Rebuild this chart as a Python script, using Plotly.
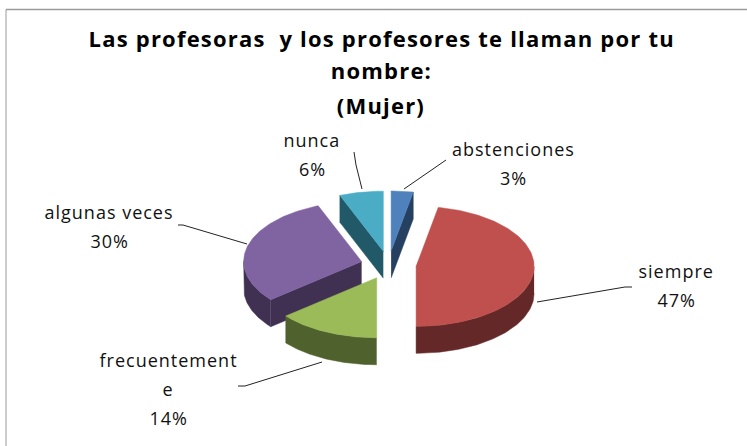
import numpy as np
import plotly.graph_objects as go

# ---- data ----
categories = ["abstenciones", "siempre", "frecuentemente", "algunas veces", "nunca"]
values = [3, 47, 14, 30, 6]
title_lines = ["Las profesoras  y los profesores te llaman por tu", "nombre:", "(Mujer)"]
label_lines = [["abstenciones", "3%"], ["siempre", "47%"], ["frecuentement", "e", "14%"],
               ["algunas veces", "30%"], ["nunca", "6%"]]

# ---- styles and layout ----
top_colors = ["#4F81BD", "#C0504D", "#9BBB59", "#8064A2", "#4BACC6"]
side_colors = ["#254061", "#632827", "#4F612C", "#403152", "#215968"]
W, H = 747, 446
CX, CY, RX, RY, DEPTH, PULL = 388.5, 265, 118, 60, 27, 0.235
draw_order = [0, 4, 3, 1, 2]
label_xy = [(513, 149), (676, 271), (168, 360), (109, 212), (312, 140)]
LINE_GAP = 29
leaders = [
    [(404, 189), (431, 170), (446, 160)],
    [(537, 302), (625, 287), (632, 287)],
    [(322, 362), (245, 386), (238, 386)],
    [(247, 244), (183, 225), (178, 225)],
    [(362, 189), (356, 165), (354, 152)],
]
FONT = "Open Sans"


def pt(a, cx, cy, dz=0):
    r = np.radians(a)
    return cx + RX * np.sin(r), cy - RY * np.cos(r) + dz


fig = go.Figure()


def poly(xs, ys, color, name):
    fig.add_trace(go.Scatter(x=list(xs), y=list(ys), mode="lines", fill="toself",
                             fillcolor=color, line=dict(color=color, width=0.5),
                             name=name, hoverinfo="name", showlegend=False))


total = sum(values)
fr = np.cumsum([0] + values) / total * 360
for i in draw_order:
    a0, a1 = fr[i], fr[i + 1]
    mid = np.radians((a0 + a1) / 2)
    cx = CX + PULL * RX * np.sin(mid)
    cy = CY - PULL * RY * np.cos(mid)
    name = categories[i]
    if 180 < a0 < 360:
        x, y = pt(a0, cx, cy)
        poly([cx, x, x, cx], [cy, y, y + DEPTH, cy + DEPTH], side_colors[i], name)
    if 0 < a1 < 180:
        x, y = pt(a1, cx, cy)
        poly([cx, x, x, cx], [cy, y, y + DEPTH, cy + DEPTH], side_colors[i], name)
    s0, s1 = max(a0, 90), min(a1, 270)
    if s1 > s0:
        t = np.linspace(s0, s1, 80)
        xa, ya = pt(t, cx, cy)
        poly(np.r_[xa, xa[::-1]], np.r_[ya, ya[::-1] + DEPTH], side_colors[i], name)
    t = np.linspace(a0, a1, 120)
    xa, ya = pt(t, cx, cy)
    poly(np.r_[cx, xa, cx], np.r_[cy, ya, cy], top_colors[i], name)

for pts in leaders:
    fig.add_trace(go.Scatter(x=[p[0] for p in pts], y=[p[1] for p in pts], mode="lines",
                             line=dict(color="#222222", width=1), hoverinfo="skip", showlegend=False))

for lines, (x, y) in zip(label_lines, label_xy):
    for k, txt in enumerate(lines):
        fig.add_annotation(x=x, y=y + k * LINE_GAP, text=txt, showarrow=False, align="center",
                           font=dict(family=FONT, size=18, color="#111111"))
for txt, (x, y) in zip(title_lines, [(381, 38), (381, 70), (381, 105)]):
    fig.add_annotation(x=x, y=y, text=f"<b>{txt}</b>", showarrow=False,
                       font=dict(family=FONT, size=22, color="#000000"))

fig.add_shape(type="line", x0=6, x1=W, y0=9.5, y1=9.5, line=dict(color="#9a9a9a", width=1.5))
fig.add_shape(type="line", x0=6, x1=6, y0=9.5, y1=H, line=dict(color="#9a9a9a", width=1))

fig.update_layout(
    width=W, height=H, margin=dict(l=0, r=0, t=0, b=0),
    paper_bgcolor="white", plot_bgcolor="white", showlegend=False,
    xaxis=dict(range=[0, W], visible=False, fixedrange=True),
    yaxis=dict(range=[H, 0], visible=False, fixedrange=True),
)
POST = """
document.body.style.margin = '0';
document.body.style.overflow = 'hidden';
document.querySelectorAll('.annotation-text').forEach(function (e) {
  var size = parseFloat(e.style.fontSize);
  e.style.letterSpacing = size > 20 ? '1.2px' : '1px';
});
"""
fig.write_html("out.html", post_script=POST, config={"displayModeBar": False})
